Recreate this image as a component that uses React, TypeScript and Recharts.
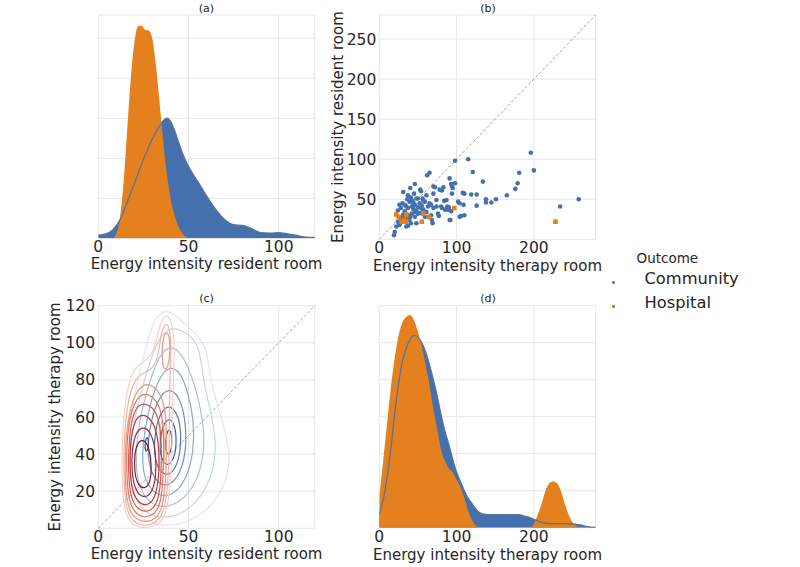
import React from 'react';
import { ComposedChart, Area, Line, Scatter, XAxis, YAxis, CartesianGrid, ReferenceLine } from 'recharts';

const BLUE = '#4471ae';
const ORANGE = '#e5801f';
const BLUE_LINE = '#5b7396';
const GRID = '#e6e6e6';
const TEXT = '#262626';
const FONT = '"DejaVu Sans", sans-serif';

// (a) density of energy intensity in the resident room
const residentX = [0, 4, 8, 10, 12, 14, 16, 18, 20, 22, 24, 26, 28, 30, 32, 34, 36, 38, 40, 42, 44, 46, 48, 50, 52, 55, 60, 65, 70, 75, 80, 85, 90, 95, 100, 105, 110, 115, 120];
const residentCommunity = [0.0008, 0.0011, 0.0021, 0.0032, 0.0046, 0.0067, 0.009, 0.0114, 0.0136, 0.0161, 0.0186, 0.0208, 0.0229, 0.0249, 0.0266, 0.0281, 0.0294, 0.03, 0.0293, 0.0273, 0.0247, 0.0221, 0.0198, 0.018, 0.0164, 0.0143, 0.0106, 0.0073, 0.0047, 0.0034, 0.0032, 0.0024, 0.0014, 0.0013, 0.0014, 0.0011, 0.0007, 0.0003, 0.0002];
const residentHospital = [0, 0, 0, 0.0012, 0.005, 0.014, 0.027, 0.04, 0.049, 0.053, 0.0532, 0.0521, 0.0519, 0.0498, 0.043, 0.0338, 0.0241, 0.016, 0.01, 0.0062, 0.0034, 0.0016, 0.0006, 0.0001, 0, 0, 0, 0, 0, 0, 0, 0, 0, 0, 0, 0, 0, 0, 0];

// (d) density of energy intensity in the therapy room
const therapyX = [0, 5, 10, 15, 20, 25, 30, 35, 40, 45, 50, 55, 60, 65, 70, 75, 80, 85, 90, 95, 100, 105, 110, 115, 120, 125, 130, 140, 150, 160, 170, 180, 190, 195, 200, 205, 210, 215, 220, 225, 230, 235, 240, 245, 250, 255, 260, 270, 280];
const therapyCommunity = [0.0007, 0.0015, 0.0027, 0.0043, 0.0062, 0.0078, 0.009, 0.0097, 0.0102, 0.0104, 0.0103, 0.01, 0.0095, 0.0088, 0.008, 0.0071, 0.0061, 0.0052, 0.0045, 0.0037, 0.003, 0.0025, 0.002, 0.0016, 0.0013, 0.001, 0.0008, 0.0007, 0.0007, 0.0007, 0.0007, 0.0007, 0.0006, 0.00055, 0.00045, 0.00036, 0.0003, 0.00024, 0.00022, 0.00022, 0.00022, 0.00022, 0.00022, 0.0002, 0.0002, 0.00018, 0.00015, 0.00006, 0.00001];
const therapyHospital = [0.0017, 0.0036, 0.0056, 0.0076, 0.0092, 0.0104, 0.0111, 0.0114, 0.0115, 0.0112, 0.0106, 0.0098, 0.0088, 0.0077, 0.0064, 0.0053, 0.0042, 0.0036, 0.0032, 0.003, 0.0026, 0.0022, 0.0016, 0.0009, 0.0004, 0.0001, 0, 0, 0, 0, 0, 0, 0, 0, 0.0002, 0.0007, 0.0013, 0.002, 0.0024, 0.0025, 0.0024, 0.002, 0.0013, 0.0007, 0.0003, 0.0001, 0, 0, 0];

// (b) [therapy room, resident room]
const communityPoints: [number, number][] = [
  [19, 5], [20, 9], [22, 16], [26, 18], [24, 22], [27, 20], [35, 16], [37, 17], [41, 20], [48, 20], [68, 24], [69, 20],
  [91, 24], [28, 26], [35, 25], [39, 24], [31, 28], [40, 28], [46, 28], [59, 28], [67, 30], [37, 30], [31, 31], [42, 32],
  [50, 32], [53, 33], [76, 32], [61, 34], [46, 34], [24, 36], [48, 36], [85, 37], [28, 39], [37, 39], [44, 38], [54, 39],
  [70, 39], [81, 39], [63, 41], [74, 41], [80, 41], [88, 41], [26, 43], [33, 43], [46, 43], [67, 43], [109, 43], [52, 45],
  [44, 45], [39, 47], [59, 47], [57, 48], [102, 47], [84, 48], [41, 52], [50, 51], [56, 51], [48, 51], [87, 49], [74, 49],
  [37, 55], [61, 55], [70, 57], [31, 59], [54, 60], [53, 62], [40, 64], [72, 65], [70, 66], [94, 66], [78, 62], [46, 69],
  [98, 70], [93, 69], [83, 65], [81, 61], [95, 64], [94, 57], [108, 58], [110, 57], [119, 56], [126, 56], [104, 45],
  [138, 50], [151, 50], [145, 46], [138, 46], [126, 42], [90, 40], [93, 35], [89, 37], [110, 30], [106, 29], [104, 28],
  [92, 24], [77, 29], [62, 80], [65, 83], [91, 76], [98, 98], [115, 100], [121, 84], [134, 72], [196, 108], [200, 86],
  [181, 83], [179, 70], [176, 63], [165, 55], [234, 41], [258, 50], [33, 35], [35, 41], [42, 41], [30, 45], [43, 48],
  [36, 50], [55, 42], [57, 37], [65, 45], [45, 57], [50, 40],
];
const hospitalPoints: [number, number][] = [
  [22, 31], [25, 28], [29, 22], [32, 24], [35, 22], [35, 31], [55, 22], [57, 32], [64, 28], [97, 39], [228, 22],
];

// (c) KDE contour lines, [resident room, therapy room], lightest level first
const communityContours: [number, number][][] = [
  [[14, 26], [19, 7], [34, 0], [55, 4], [70, 20], [74, 40], [68, 60], [62, 80], [60, 98], [55, 104], [48, 110], [39, 119], [31, 114], [27, 100], [22, 80], [16, 55]],
  [[17, 28], [22, 10], [36, 4], [52, 10], [63, 26], [66, 46], [62, 64], [58, 80], [56, 100], [48, 106], [40, 109], [33, 102], [28, 88], [22, 68], [18, 48]],
  [[20, 30], [26, 14], [38, 10], [51, 18], [58, 34], [59, 52], [56, 68], [52, 82], [46, 95], [39, 99], [33, 92], [27, 75], [22, 55]],
  [[23, 33], [29, 19], [40, 16], [49, 26], [53, 42], [53, 58], [50, 72], [46, 84], [39, 88], [33, 80], [27, 62]],
  [[27, 35], [33, 23], [41, 23], [47, 33], [49, 47], [48, 60], [45, 71], [39, 76], [33, 70], [28, 54]],
  [[31, 36], [36, 28], [42, 30], [45.5, 40], [46, 52], [44, 62], [39, 67], [34, 62], [31, 50]],
  [[34.5, 38], [38, 33], [42, 37], [43.5, 46], [42.5, 56], [39, 60], [35.5, 55], [34, 46]],
  [[37, 42], [39, 39], [40.8, 43], [40.8, 50], [39.5, 54], [37.5, 51]],
  [[26, 41], [27.5, 42], [28, 47], [27, 50], [25.8, 46]],
];
const communityColors = ['#dde7f3', '#c3d5ea', '#a5c1e0', '#86a9d3', '#6a90c4', '#5077b3', '#3d5f9b', '#2d4479', '#344f86'];

const hospitalContours: [number, number][][] = [
  [[13, 30], [14, 9], [19, 0.5], [31, 0], [38, 6], [40.5, 28], [41, 55], [41.5, 80], [42.5, 100], [40.5, 113], [37, 116], [33.5, 108], [31, 95], [25, 89], [18, 86], [13.5, 60]],
  [[14, 30], [15, 10], [20, 2], [30, 1], [37, 8], [39, 28], [39.5, 55], [39.5, 80], [40.5, 98], [39.5, 109], [37, 111], [34.5, 104], [33, 90], [28, 84], [20, 83], [14.5, 60]],
  [[33.5, 32], [35.5, 28], [37, 40], [36.8, 56], [35, 60], [33.5, 48]],
  [[14.5, 30], [16, 11], [21, 4], [30, 3], [36, 10], [37.5, 28], [38, 50], [37, 68], [31, 78], [22, 78], [15.5, 58]],
  [[35.3, 88], [37.5, 84], [39.8, 92], [39.8, 103], [37.5, 107], [35.3, 100]],
  [[15.5, 30], [17, 13], [22, 6], [30, 6], [35, 13], [36, 30], [36.5, 50], [35, 65], [29, 73], [21, 72], [16, 55]],
  [[16.5, 30], [18, 15], [23, 9], [30, 9], [34, 17], [35, 32], [35, 50], [33, 62], [27, 68], [20, 66], [17, 50]],
  [[17.5, 30], [19, 18], [24, 12], [30, 13], [33, 22], [34, 36], [33, 50], [30, 58], [25, 62], [20, 59], [17.5, 45]],
  [[18.5, 30], [20.5, 20], [25, 16], [30, 19], [32, 28], [32, 40], [30, 50], [26, 55], [21, 53], [18.5, 42]],
  [[20, 30], [22, 23], [26, 21], [29, 25], [29.5, 34], [28.5, 42], [26, 48], [22, 47], [20, 40]],
];
const hospitalColors = ['#f6d2c4', '#f2b4a0', '#f5c7b4', '#ec9680', '#ec9680', '#e27660', '#d4574a', '#bb3a3a', '#9c2a33', '#7c1d2b'];

const residentTable = residentX.map((x, i) => ({ x, community: residentCommunity[i], hospital: residentHospital[i] }));
const therapyTable = therapyX.map((x, i) => ({ x, community: therapyCommunity[i], hospital: therapyHospital[i] }));
const toXY = (pts: [number, number][]) => pts.map(([x, y]) => ({ x, y }));

const tickStyle = { fill: TEXT, fontSize: 15.5 };
const xLabel = (value: string) => ({ value, position: 'insideBottom' as const, offset: 0, fill: TEXT, fontSize: 15 });
const yLabel = (value: string, offset: number) => ({
  value, angle: -90, position: 'insideLeft' as const, offset, fill: TEXT, fontSize: 15, style: { textAnchor: 'middle' as const },
});

const Title = ({ text, cx, baseline }: { text: string; cx: number; baseline: number }) => (
  <div style={{ position: 'absolute', left: cx - 50, width: 100, top: baseline - 9.3, fontSize: 11, lineHeight: '11px', textAlign: 'center', color: TEXT }}>
    {text}
  </div>
);

const dot = (color: string) => (props: any) => <circle cx={props.cx} cy={props.cy} r={2.3} fill={color} />;
const square = (color: string) => (props: any) => <rect x={props.cx - 2.3} y={props.cy - 2.3} width={4.6} height={4.6} fill={color} />;

const DensityPanel = ({ data, domainX, ticksX, domainY, ticksY, label, w, h, margin, xHeight }: any) => (
  <ComposedChart width={w} height={h} data={data} margin={margin}>
    <CartesianGrid stroke={GRID} />
    <XAxis dataKey="x" type="number" domain={domainX} ticks={ticksX} allowDataOverflow axisLine={false} tickLine={false}
      tickSize={2} tickMargin={1} height={xHeight} tick={tickStyle} label={xLabel(label)} />
    <YAxis hide type="number" domain={domainY} ticks={ticksY} allowDataOverflow />
    <Area dataKey="community" type="monotone" fill={BLUE} fillOpacity={1} stroke="none" isAnimationActive={false} />
    <Area dataKey="hospital" type="monotone" fill={ORANGE} fillOpacity={1} stroke="none" isAnimationActive={false} />
    <Line dataKey="community" type="monotone" stroke={BLUE_LINE} strokeWidth={1.3} dot={false} activeDot={false} isAnimationActive={false} />
  </ComposedChart>
);

export default function App() {
  return (
    <div style={{ position: 'absolute', left: 0, top: 0, width: 800, height: 567, background: '#fff', fontFamily: FONT, overflow: 'hidden' }}>
      {/* (a) */}
      <div style={{ position: 'absolute', left: 0, top: 0 }}>
        <DensityPanel data={residentTable} domainX={[0, 120]} ticksX={[0, 50, 100]} domainY={[0, 0.0558]}
          ticksY={[0.01, 0.02, 0.03, 0.04, 0.05]} label="Energy intensity resident room" w={330} h={280}
          margin={{ top: 15, right: 15.2, bottom: 10.7, left: 98.3 }} xHeight={31} />
      </div>

      {/* (b) */}
      <div style={{ position: 'absolute', left: 330, top: 0 }}>
        <ComposedChart width={280} height={280} margin={{ top: 15, right: 14.3, bottom: 9.4, left: 0 }}>
          <CartesianGrid stroke={GRID} />
          <XAxis dataKey="x" type="number" domain={[0, 280]} ticks={[0, 100, 200]} allowDataOverflow axisLine={false} tickLine={false}
            tickSize={2} tickMargin={1} height={31.3} tick={tickStyle} label={xLabel('Energy intensity therapy room')} />
          <YAxis dataKey="y" type="number" domain={[0, 280]} ticks={[50, 100, 150, 200, 250]} allowDataOverflow axisLine={false} tickLine={false}
            tickSize={1} tickMargin={2} width={49.3} tick={tickStyle} label={yLabel('Energy intensity resident room', 8)} />
          <ReferenceLine segment={[{ x: 0, y: 0 }, { x: 280, y: 280 }]} stroke="#999" strokeWidth={0.9} strokeDasharray="3 2" />
          <Scatter data={toXY(communityPoints)} fill={BLUE} shape={dot(BLUE)} isAnimationActive={false} />
          <Scatter data={toXY(hospitalPoints)} fill={ORANGE} shape={square(ORANGE)} isAnimationActive={false} />
        </ComposedChart>
      </div>

      {/* (c) */}
      <div style={{ position: 'absolute', left: 0, top: 285 }}>
        <ComposedChart width={330} height={282} margin={{ top: 20.7, right: 15.2, bottom: 7.7, left: 0 }}>
          <CartesianGrid stroke={GRID} />
          <XAxis dataKey="x" type="number" domain={[0, 120]} ticks={[0, 50, 100]} allowDataOverflow axisLine={false} tickLine={false}
            tickSize={2} tickMargin={1} height={31} tick={tickStyle} label={xLabel('Energy intensity resident room')} />
          <YAxis dataKey="y" type="number" domain={[0, 120]} ticks={[20, 40, 60, 80, 100, 120]} allowDataOverflow axisLine={false} tickLine={false}
            tickSize={1.3} tickMargin={2} width={98.3} tick={tickStyle} label={yLabel('Energy intensity therapy room', 55)} />
          <ReferenceLine segment={[{ x: 0, y: 0 }, { x: 120, y: 120 }]} stroke="#999" strokeWidth={0.9} strokeDasharray="3 2" />
          {communityContours.map((c, i) => (
            <Line key={`b${i}`} data={toXY(c)} dataKey="y" type="basisClosed" stroke={communityColors[i]} strokeWidth={1.2}
              dot={false} activeDot={false} isAnimationActive={false} />
          ))}
          {hospitalContours.map((c, i) => (
            <Line key={`r${i}`} data={toXY(c)} dataKey="y" type="basisClosed" stroke={hospitalColors[i]} strokeWidth={1.2}
              dot={false} activeDot={false} isAnimationActive={false} />
          ))}
        </ComposedChart>
      </div>

      {/* (d) */}
      <div style={{ position: 'absolute', left: 330, top: 285 }}>
        <DensityPanel data={therapyTable} domainX={[0, 280]} ticksX={[0, 100, 200]} domainY={[0, 0.012]}
          ticksY={[0.002, 0.004, 0.006, 0.008, 0.01]} label="Energy intensity therapy room" w={280} h={282}
          margin={{ top: 20.7, right: 14.3, bottom: 6.8, left: 49.3 }} xHeight={32.5} />
      </div>

      <Title text="(a)" cx={206.5} baseline={12.5} />
      <Title text="(b)" cx={488} baseline={12.5} />
      <Title text="(c)" cx={206.5} baseline={302} />
      <Title text="(d)" cx={488} baseline={302} />

      {/* legend */}
      <div style={{ position: 'absolute', left: 636.5, top: 251.6, fontSize: 13.5, lineHeight: '13.5px', color: TEXT }}>Outcome</div>
      <div style={{ position: 'absolute', left: 611.6, top: 280.6, width: 3.4, height: 3.4, borderRadius: '50%', background: BLUE }} />
      <div style={{ position: 'absolute', left: 644.5, top: 271.4, fontSize: 16.3, lineHeight: '16.3px', color: TEXT }}>Community</div>
      <div style={{ position: 'absolute', left: 611.6, top: 305, width: 3.4, height: 3.4, background: ORANGE }} />
      <div style={{ position: 'absolute', left: 644.5, top: 294.7, fontSize: 16.3, lineHeight: '16.3px', color: TEXT }}>Hospital</div>
    </div>
  );
}
